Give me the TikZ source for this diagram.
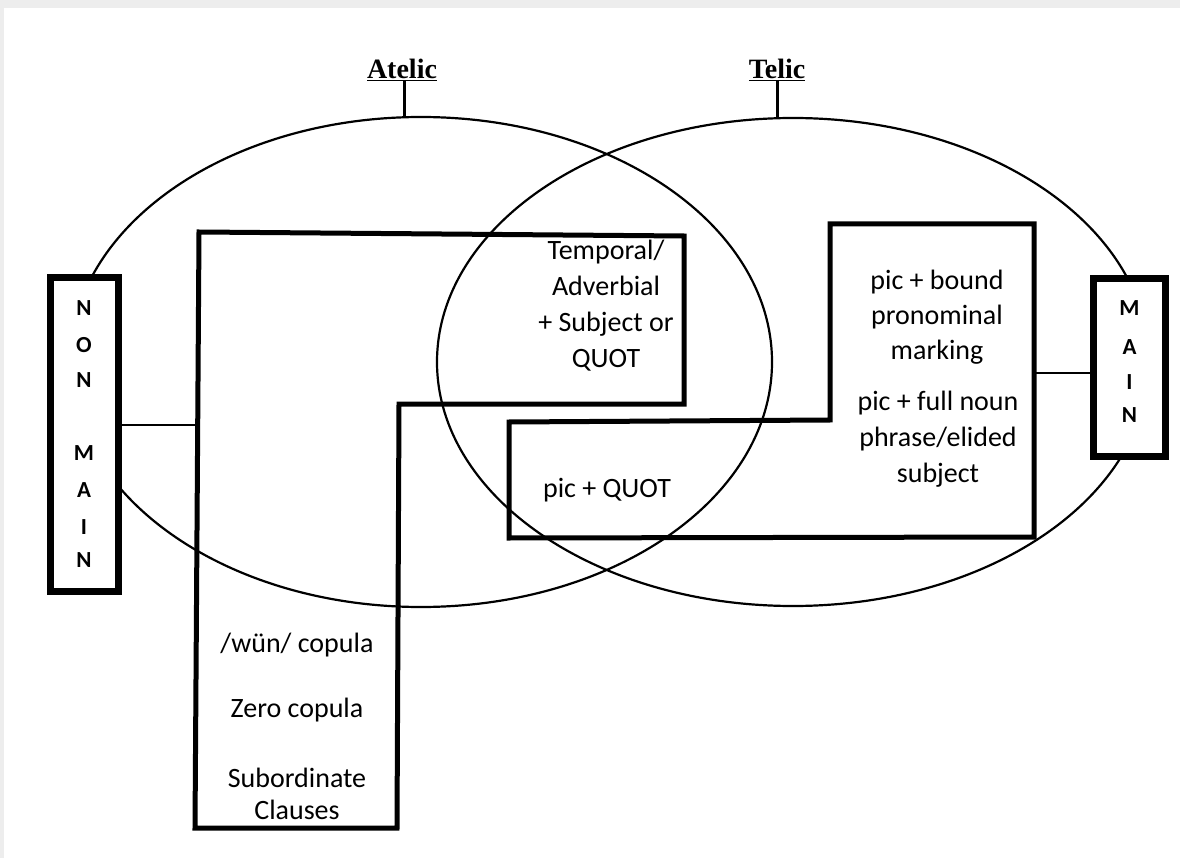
\documentclass[tikz,border=0pt]{standalone}
\usepackage{fontspec}
\setmainfont{Carlito}
\newfontfamily\labelfont{Liberation Serif}
\usetikzlibrary{shapes.geometric}
\begin{document}
\begin{tikzpicture}[x=1pt,y=-1pt,
  setcirc/.style={ellipse, draw, line width=2.2pt, inner sep=0pt},
  thickpath/.style={line width=5pt, line join=miter},
  catbox/.style={draw, line width=7pt, inner sep=0pt, fill=white},
  link/.style={line width=2.5pt},
  stemline/.style={line width=3pt},
  body/.style={align=center, font=\fontsize{28}{36}\selectfont, inner sep=0pt},
  letter/.style={font=\fontsize{23}{23}\selectfont\bfseries, inner sep=0pt},
  head/.style={font=\labelfont\fontsize{28}{28}\selectfont\bfseries, inner sep=0pt}
]
% background and frame
\fill[black!7] (0,0) rectangle (1180,858);
\fill[white] (4,8) rectangle (1180,858);
\useasboundingbox (0,0) rectangle (1180,858);

% sets
\node[setcirc, minimum width=702pt, minimum height=490pt] (atelicE) at (421,362) {};
\node[setcirc, minimum width=712pt, minimum height=488pt] (telicE) at (793,362) {};

% headings
\node[head] (atelic) at (402,70) {\underline{Atelic}};
\node[head] (telic) at (777,70) {\underline{Telic}};
\draw[stemline] ([xshift=2pt]atelic.south) -- ([xshift=2pt]atelic.south |- atelicE.north);
\draw[stemline] (telic.south) -- (telic.south |- telicE.north);

% left L-shaped region
\coordinate (a1) at (199,232);
\coordinate (a2) at (684,236);
\coordinate (a3) at (684,404);
\coordinate (a4) at (399,404);
\coordinate (a5) at (397,828);
\coordinate (a6) at (195,828);
\draw[thickpath] (a1) -- (a2) -- (a3) -- (a4) -- (a5) -- (a6) -- cycle;

% right L-shaped region
\coordinate (b1) at (830,224);
\coordinate (b2) at (1034,224);
\coordinate (b3) at (1034,537);
\coordinate (b4) at (509,538);
\coordinate (b5) at (509,422);
\coordinate (b6) at (830,420);
\draw[thickpath] (b1) -- (b2) -- (b3) -- (b4) -- (b5) -- (b6) -- cycle;

% category boxes
\node[catbox, minimum width=68pt, minimum height=314pt] (nonmain) at (84,434.5) {};
\node[letter] (n1) at (84,308) {N};
\node[letter] (n2) at (84,345) {O};
\node[letter] (n3) at (84,380) {N};
\node[letter] (n4) at (84,453) {M};
\node[letter] (n5) at (84,490) {A};
\node[letter] (n6) at (84,527) {I};
\node[letter] (n7) at (84,560) {N};

\node[catbox, minimum width=72pt, minimum height=178pt] (main) at (1129.5,367.5) {};
\node[letter] (m1) at (1129.5,308) {M};
\node[letter] (m2) at (1129.5,347) {A};
\node[letter] (m3) at (1129.5,382) {I};
\node[letter] (m4) at (1129.5,415) {N};

% links from boxes to regions
\coordinate (lconn) at (198,425);
\coordinate (rconn) at (1034,373);
\draw[link] (nonmain.east |- lconn) -- (lconn);
\draw[link] (main.west |- rconn) -- (rconn);

% texts
\node[body] (t1) at (606,306) {Temporal/\\Adverbial\\+ Subject or\\QUOT};
\node[body] (t2) at (607,490) {pic + QUOT};
\node[body, font=\fontsize{28}{35}\selectfont] (t3) at (937,317) {pic + bound\\pronominal\\marking};
\node[body, font=\fontsize{28}{36}\selectfont] (t4) at (938,439) {pic + full noun\\phrase/elided\\subject};
\node[body] (t5) at (297,645) {/wün/ copula};
\node[body] (t6) at (297,710) {Zero copula};
\node[body, font=\fontsize{28}{32}\selectfont] (t7) at (297,794) {Subordinate\\Clauses};
\end{tikzpicture}
\end{document}
